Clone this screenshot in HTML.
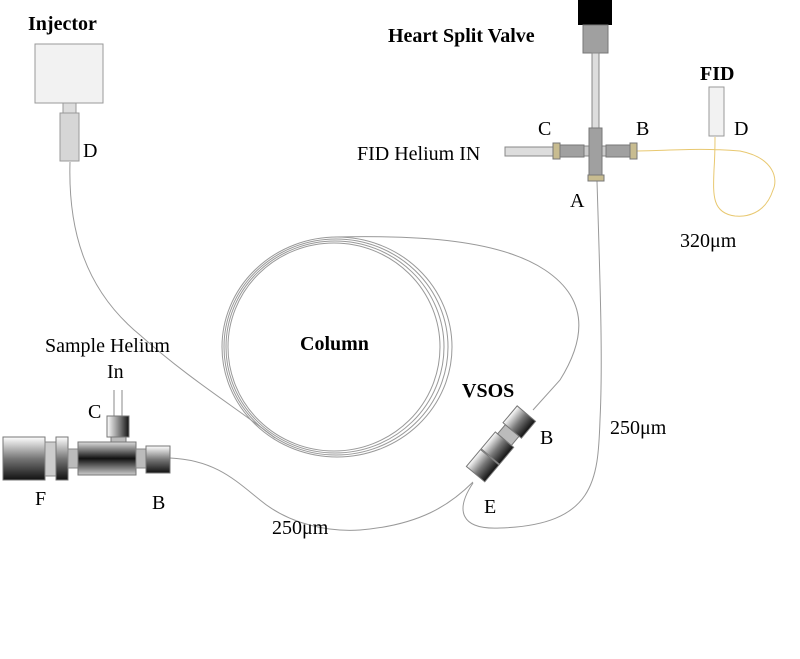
<!DOCTYPE html>
<html><head><meta charset="utf-8"><style>body{margin:0;background:#fff}svg{display:block}text{font-family:"Liberation Serif",serif;font-size:20px;fill:#000}.b{font-weight:bold}</style></head><body>
<svg width="800" height="659" viewBox="0 0 800 659" xmlns="http://www.w3.org/2000/svg">
<defs>
<linearGradient id="g" x1="0" y1="0" x2="0" y2="1"><stop offset="0" stop-color="#fff"/><stop offset="0.5" stop-color="#777"/><stop offset="1" stop-color="#111"/></linearGradient>
<linearGradient id="gb" x1="0" y1="0" x2="0" y2="1"><stop offset="0" stop-color="#ddd"/><stop offset="0.5" stop-color="#111"/><stop offset="1" stop-color="#ccc"/></linearGradient>
<linearGradient id="gh" x1="0" y1="0" x2="1" y2="0"><stop offset="0" stop-color="#fff"/><stop offset="0.6" stop-color="#777"/><stop offset="1" stop-color="#111"/></linearGradient>
</defs>
<!-- Injector -->
<text x="28" y="30" class="b">Injector</text>
<rect x="35" y="44" width="68" height="59" fill="#f2f2f2" stroke="#999"/>
<rect x="63" y="103" width="13" height="10" fill="#ddd" stroke="#999"/>
<rect x="60" y="113" width="19" height="48" fill="#d6d6d6" stroke="#999"/>
<text x="83" y="157">D</text>
<g fill="none" stroke="#999" stroke-width="1">
<path d="M70 162 C68 230 85 290 140 335 C190 380 240 410 275 438"/>
<ellipse cx="337" cy="347" rx="115" ry="110"/>
<ellipse cx="336" cy="347" rx="112" ry="108"/>
<ellipse cx="335" cy="347" rx="109" ry="106"/>
<ellipse cx="334" cy="347" rx="106" ry="104"/>
<path d="M335 237 C420 235 500 240 545 270 C590 300 585 340 560 380 L533 410"/>
<path d="M170 458 C215 460 235 480 260 500 C290 525 330 532 360 530 C420 525 450 505 473 482"/>
<path d="M597 181 C600 280 603 360 600 420 C598 480 595 525 500 528 C460 530 455 510 473 483"/>
</g>
<path d="M637 151 C680 150 700 148 740 151 C775 158 778 180 773 190 C765 215 745 217 735 216 C712 213 713 195 714 170 C715 155 715 145 715 137" fill="none" stroke="#e8c870"/>
<text x="300" y="350" class="b">Column</text>
<!-- Heart split valve -->
<text x="388" y="42" class="b">Heart Split Valve</text>
<rect x="578" y="0" width="34" height="25" fill="#000"/>
<rect x="583" y="25" width="25" height="28" fill="#a0a0a0" stroke="#777"/>
<rect x="592" y="53" width="7" height="75" fill="#ddd" stroke="#888"/>
<rect x="505" y="147" width="48" height="9" fill="#ddd" stroke="#888"/>
<rect x="560" y="146" width="60" height="10" fill="#ccc" stroke="#888"/>
<rect x="560" y="145" width="24" height="12" fill="#a0a0a0" stroke="#777"/>
<rect x="606" y="145" width="24" height="12" fill="#a0a0a0" stroke="#777"/>
<rect x="589" y="128" width="13" height="47" fill="#a0a0a0" stroke="#777"/>
<rect x="553" y="143" width="7" height="16" fill="#c8bc90" stroke="#777"/>
<rect x="630" y="143" width="7" height="16" fill="#c8bc90" stroke="#777"/>
<rect x="588" y="175" width="16" height="6" fill="#c8bc90" stroke="#777"/>
<text x="538" y="135">C</text><text x="636" y="135">B</text><text x="570" y="207">A</text>
<text x="357" y="160">FID Helium IN</text>
<text x="700" y="80" class="b">FID</text>
<rect x="709" y="87" width="15" height="49" fill="#f2f2f2" stroke="#999"/>
<text x="734" y="135">D</text>
<text x="680" y="247">320μm</text>
<text x="610" y="434">250μm</text>
<text x="272" y="534">250μm</text>
<!-- VSOS -->
<text x="462" y="397" class="b">VSOS</text>
<g transform="translate(500,445) rotate(-50)">
<rect x="-38" y="-12" width="22" height="24" fill="url(#g)" stroke="#777"/>
<rect x="-15" y="-12" width="22" height="24" fill="url(#g)" stroke="#777"/>
<rect x="7" y="-9" width="12" height="18" fill="#bbb" stroke="#777"/>
<rect x="19" y="-12" width="22" height="24" fill="url(#g)" stroke="#777"/>
</g>
<text x="540" y="444">B</text><text x="484" y="513">E</text>
<!-- Sample tee -->
<text x="45" y="352">Sample Helium</text><text x="107" y="378">In</text>
<line x1="114" y1="390" x2="114" y2="416" stroke="#888"/><line x1="122" y1="390" x2="122" y2="416" stroke="#888"/>
<rect x="107" y="416" width="22" height="21" fill="url(#gh)" stroke="#777"/>
<rect x="111" y="437" width="15" height="6" fill="#bbb" stroke="#777"/>
<rect x="3" y="437" width="42" height="43" fill="url(#g)" stroke="#777"/>
<rect x="45" y="442" width="11" height="34" fill="#ccc" stroke="#888"/>
<rect x="56" y="437" width="12" height="43" fill="url(#g)" stroke="#777"/>
<rect x="68" y="449" width="10" height="19" fill="#bbb" stroke="#888"/>
<rect x="78" y="442" width="58" height="33" fill="url(#gb)" stroke="#777"/>
<rect x="136" y="449" width="10" height="19" fill="#bbb" stroke="#888"/>
<rect x="146" y="446" width="24" height="27" fill="url(#g)" stroke="#777"/>
<text x="88" y="418">C</text><text x="35" y="505">F</text><text x="152" y="509">B</text>
</svg>
</body></html>
